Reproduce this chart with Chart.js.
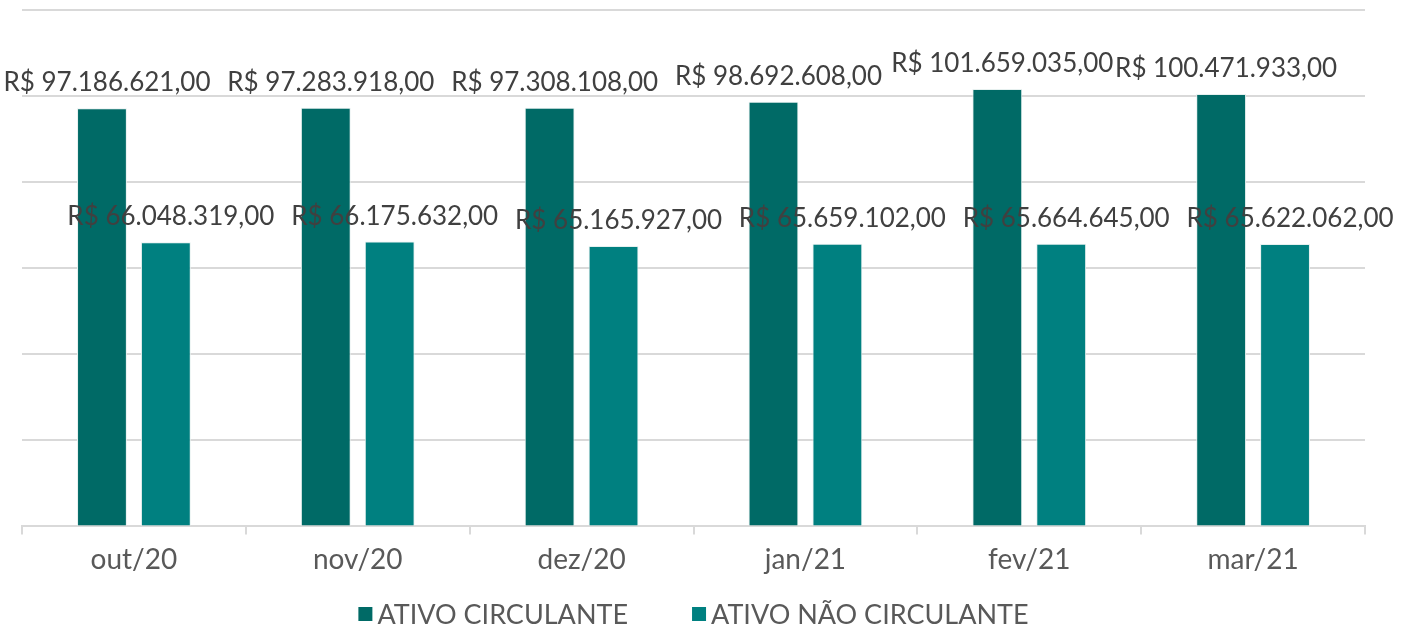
<!DOCTYPE html>
<html>
<head>
<meta charset="utf-8">
<script src="https://cdn.jsdelivr.net/npm/chart.js@4"></script>
<style>
  html, body { margin: 0; padding: 0; background: #fff; }
  #wrap { width: 1402px; height: 627px; }
</style>
</head>
<body>
<div id="wrap"><canvas id="ativoChart" width="1402" height="627"></canvas></div>
<script>
const meses = ["out/20", "nov/20", "dez/20", "jan/21", "fev/21", "mar/21"];
const ativoCirculante = [97186621, 97283918, 97308108, 98692608, 101659035, 100471933];
const ativoNaoCirculante = [66048319, 66175632, 65165927, 65659102, 65664645, 65622062];

const fonte = "Lato, 'Open Sans', sans-serif";

function formatarReal(v) {
  return "R$ " + v.toLocaleString("pt-BR", { minimumFractionDigits: 2, maximumFractionDigits: 2 });
}

// desenha os rotulos acima das barras
const rotulos = {
  id: "rotulos",
  afterDatasetsDraw(chart) {
    const ctx = chart.ctx;
    ctx.save();
    ctx.font = "26px " + fonte;
    ctx.fillStyle = "#404040";
    ctx.textAlign = "center";
    ctx.textBaseline = "alphabetic";
    chart.data.datasets.forEach((ds, i) => {
      chart.getDatasetMeta(i).data.forEach((bar, j) => {
        ctx.fillText(formatarReal(ds.data[j]), bar.x + 5, bar.y - 17);
      });
    });
    ctx.restore();
  }
};

// legenda no rodape, centrada na area do grafico
const legenda = {
  id: "legenda",
  afterDraw(chart) {
    const ctx = chart.ctx;
    const area = chart.chartArea;
    const caixa = 14, folga = 5, entre = 64;
    ctx.save();
    ctx.font = "27px " + fonte;
    ctx.textBaseline = "middle";
    ctx.textAlign = "left";
    const larguras = chart.data.datasets.map(ds => caixa + folga + ctx.measureText(ds.label).width);
    const total = larguras.reduce((a, b) => a + b, 0) + entre * (larguras.length - 1);
    let x = (area.left + area.right) / 2 - total / 2;
    const y = chart.height - 13;
    chart.data.datasets.forEach((ds, i) => {
      ctx.fillStyle = ds.backgroundColor;
      ctx.fillRect(x, y - caixa / 2, caixa, caixa);
      ctx.fillStyle = "#595959";
      ctx.fillText(ds.label, x + caixa + folga, y + 1);
      x += larguras[i] + entre;
    });
    ctx.restore();
  }
};

const ctx = document.getElementById("ativoChart").getContext("2d");

const ativoChart = new Chart(ctx, {
  type: "bar",
  data: {
    labels: meses,
    datasets: [
      {
        label: "ATIVO CIRCULANTE",
        data: ativoCirculante,
        backgroundColor: "#006A66",
        borderColor: "#e6f0ef",
        borderWidth: 1,
        categoryPercentage: 0.571,
        barPercentage: 0.78
      },
      {
        label: "ATIVO NÃO CIRCULANTE",
        data: ativoNaoCirculante,
        backgroundColor: "#008080",
        borderColor: "#e6f0ef",
        borderWidth: 1,
        categoryPercentage: 0.571,
        barPercentage: 0.78
      }
    ]
  },
  options: {
    responsive: false,
    animation: false,
    layout: { padding: { left: 22, right: 37, top: 10, bottom: 41 } },
    plugins: {
      tooltip: { enabled: false },
      legend: { display: false }
    },
    scales: {
      x: {
        grid: { drawOnChartArea: false, color: "#d9d9d9", tickLength: 8, lineWidth: 2 },
        border: { color: "#d9d9d9", width: 2 },
        ticks: { font: { family: fonte, size: 28 }, color: "#595959", padding: 9 }
      },
      y: {
        min: 0,
        max: 120000000,
        ticks: { display: false, stepSize: 20000000 },
        grid: { color: "#d9d9d9", lineWidth: 2, drawTicks: false },
        border: { display: false },
        afterFit(scale) { scale.width = 0; }
      }
    }
  },
  plugins: [rotulos, legenda]
});
</script>
</body>
</html>
